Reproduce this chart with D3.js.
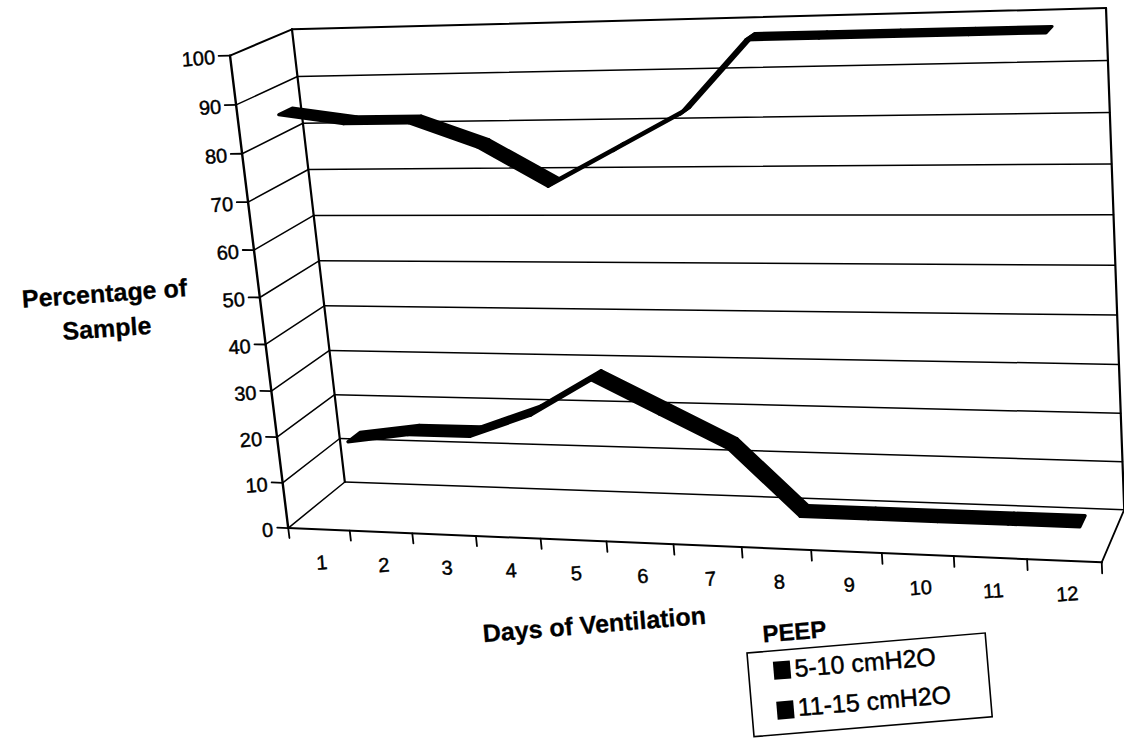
<!DOCTYPE html>
<html>
<head>
<meta charset="utf-8">
<script src="https://cdn.jsdelivr.net/npm/d3@7/dist/d3.min.js"></script>
<style>
  html, body { margin: 0; padding: 0; background: #fff; }
  svg { display: block; }
  text { font-family: "Liberation Sans", Arial, sans-serif; fill: #000; stroke: #000; stroke-width: 0.45px; }
  text.bold { stroke-width: 0.3px; }
</style>
</head>
<body>
<svg id="chart" width="1124" height="740"></svg>
<script>
// ---- data ----
const days = [1, 2, 3, 4, 5, 6, 7, 8, 9, 10, 11, 12];
const seriesNames = ["5-10 cmH2O", "11-15 cmH2O"];
const peepLow  = [87, 85, 85, 80, 72, 79, 86, 100, 100, 100, 100, 100];
const peepHigh = [13, 15, 15, 20, 28, 21, 14, 0, 0, 0, 0, 0];
const valueTicks = [0, 10, 20, 30, 40, 50, 60, 70, 80, 90, 100];
const xTitle = "Days of Ventilation";
const yTitle = ["Percentage of", "Sample"];
const legendTitle = "PEEP";

// ---- perspective camera for the 3-D plot box ----
// world space: X across days (0..1), Y value (0..1), Z depth front->back (0..1)
const boxCorners = [
  [[0, 0, 0], [288, 528]],
  [[0, 1, 0], [230, 56]],
  [[0, 0, 1], [345, 482]],
  [[0, 1, 1], [292, 29]],
  [[1, 0, 1], [1124, 510]],
  [[1, 1, 1], [1106, 8]],
  [[1, 0, 0], [1102, 562]]
];

function fitCamera(pairs) {
  const A = [], b = [];
  pairs.forEach(([[X, Y, Z], [x, y]]) => {
    A.push([X, Y, Z, 1, 0, 0, 0, 0, -x * X, -x * Y, -x * Z]); b.push(x);
    A.push([0, 0, 0, 0, X, Y, Z, 1, -y * X, -y * Y, -y * Z]); b.push(y);
  });
  const n = 11;
  const M = Array.from({length: n}, () => new Array(n + 1).fill(0));
  for (let r = 0; r < A.length; r++) {
    for (let i = 0; i < n; i++) {
      for (let j = 0; j < n; j++) M[i][j] += A[r][i] * A[r][j];
      M[i][n] += A[r][i] * b[r];
    }
  }
  for (let c = 0; c < n; c++) {
    let p = c;
    for (let r = c + 1; r < n; r++) if (Math.abs(M[r][c]) > Math.abs(M[p][c])) p = r;
    [M[c], M[p]] = [M[p], M[c]];
    for (let r = 0; r < n; r++) {
      if (r === c) continue;
      const f = M[r][c] / M[c][c];
      for (let k = c; k <= n; k++) M[r][k] -= f * M[c][k];
    }
  }
  return M.map((row, i) => row[n] / row[i]);
}
const P = fitCamera(boxCorners);
function project(X, Y, Z) {
  const d = P[8] * X + P[9] * Y + P[10] * Z + 1;
  return [(P[0] * X + P[1] * Y + P[2] * Z + P[3]) / d,
          (P[4] * X + P[5] * Y + P[6] * Z + P[7]) / d];
}

// ---- scales ----
const xScale = d3.scaleBand().domain(days).range([0, 1]);
const yScale = d3.scaleLinear().domain([0, 100]).range([0, 1]);
const zScale = d3.scaleBand().domain(seriesNames).range([0, 1]).paddingInner(0.55).paddingOuter(0.3);
const xMid = d => xScale(d) + xScale.bandwidth() / 2;

const svg = d3.select("#chart");
svg.append("rect").attr("width", 1124).attr("height", 740).attr("fill", "#fff");
const line = d3.line();
const seg = (a, b, w) => svg.append("path").attr("d", line([project(...a), project(...b)]))
  .attr("fill", "none").attr("stroke", "#000").attr("stroke-width", w).attr("stroke-linecap", "round");

// back-wall and side-wall gridlines
valueTicks.forEach(t => {
  const v = yScale(t);
  seg([0, v, 1], [1, v, 1], t === 100 ? 2 : 1.5);
  seg([0, v, 0], [0, v, 1], t === 100 ? 2 : 1.5);
});
// box edges
seg([0, 0, 1], [0, 1, 1], 2.2);     // back-left
seg([1, 0, 1], [1, 1, 1], 2.2);     // back-right
seg([0, 0, 0], [1, 0, 0], 2);       // floor front
seg([1, 0, 0], [1, 0, 1], 1.8);     // floor right
seg([0, 0, 0], [0, 1, 0], 2.4);     // value axis

// value axis ticks and labels
valueTicks.forEach(t => {
  const v = yScale(t);
  seg([0, v, 0], [-0.015, v, 0], 1.8);
  const [x, y] = project(0, v, 0);
  svg.append("text")
    .attr("transform", `translate(${x - 15},${y + 1.5}) rotate(-4)`)
    .attr("text-anchor", "end").attr("dy", "0.35em")
    .attr("font-size", 20).text(t);
});

// day ticks and labels
d3.range(days.length + 1).forEach(i => {
  const u = i / days.length;
  seg([u, 0, 0], [u, -0.022, 0], 1.8);
});
days.forEach(d => {
  const [x, y] = project(xMid(d), 0, 0);
  svg.append("text")
    .attr("transform", `translate(${x + 3},${y + 33}) rotate(-4)`)
    .attr("text-anchor", "middle").attr("dy", "0.35em")
    .attr("font-size", 20).text(d);
});

// ribbons: back series first, then the front one
const series = [
  {name: seriesNames[1], values: peepHigh},
  {name: seriesNames[0], values: peepLow}
];
series.forEach(s => {
  const z0 = zScale(s.name), z1 = z0 + zScale.bandwidth();
  const g = svg.append("g");
  for (let i = 0; i < days.length - 1; i++) {
    const ua = xMid(days[i]), ub = xMid(days[i + 1]);
    const va = yScale(s.values[i]), vb = yScale(s.values[i + 1]);
    const quad = [project(ua, va, z0), project(ub, vb, z0), project(ub, vb, z1), project(ua, va, z1)];
    g.append("path").attr("d", line(quad) + "Z")
      .attr("fill", "#000").attr("stroke", "#000")
      .attr("stroke-width", 3.2).attr("stroke-linejoin", "round");
  }
});

// axis titles
const yt = svg.append("g").attr("transform", "translate(105,302) rotate(-4)");
yTitle.forEach((t, i) => yt.append("text").attr("class", "bold").attr("x", 0).attr("y", i * 35)
  .attr("text-anchor", "middle").attr("font-size", 25).attr("font-weight", "bold").text(t));
svg.append("text").attr("class", "bold").attr("transform", "translate(595,633) rotate(-4.8)")
  .attr("text-anchor", "middle").attr("font-size", 25).attr("font-weight", "bold").text(xTitle);

// legend
const lg = svg.append("g").attr("transform", "translate(747,653) rotate(-4.8)");
lg.append("text").attr("class", "bold").attr("x", 17).attr("y", -9)
  .attr("font-size", 24).attr("font-weight", "bold").text(legendTitle);
lg.append("rect").attr("x", 0).attr("y", 0).attr("width", 239).attr("height", 84)
  .attr("fill", "#fff").attr("stroke", "#000").attr("stroke-width", 1.6);
seriesNames.forEach((n, i) => {
  lg.append("rect").attr("x", 25).attr("y", 11 + i * 40).attr("width", 17).attr("height", 18).attr("fill", "#000");
  lg.append("text").attr("x", 46).attr("y", 28 + i * 39).attr("font-size", 25).text(n);
});
</script>
</body>
</html>
